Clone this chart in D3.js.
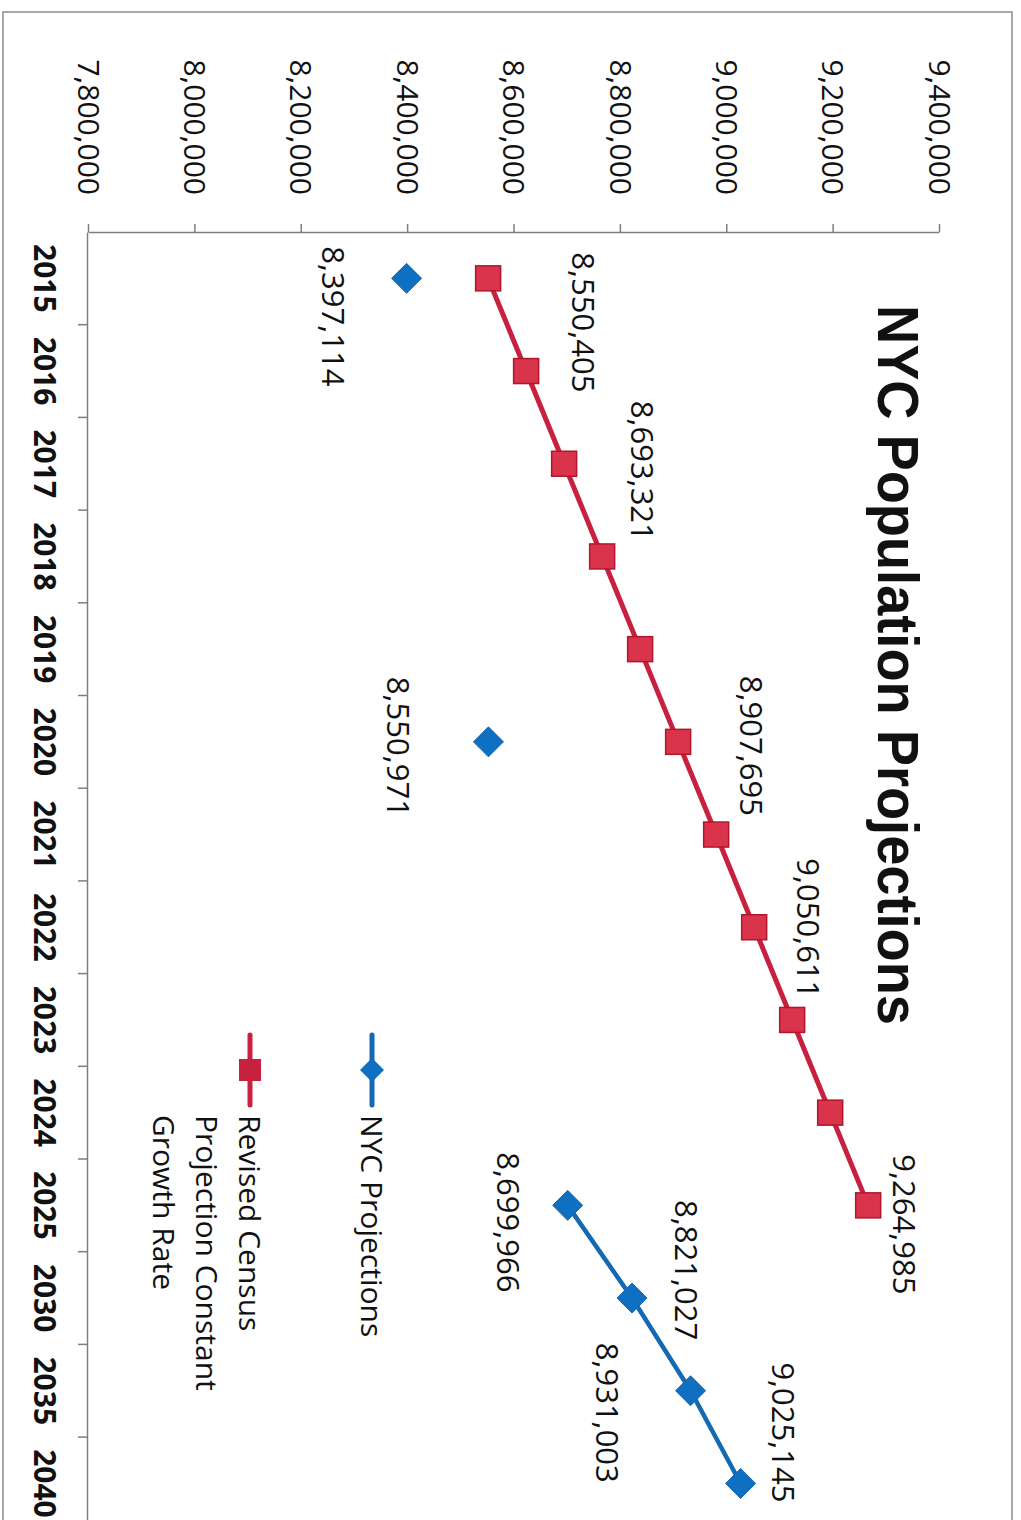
<!DOCTYPE html>
<html>
<head>
<meta charset="utf-8">
<script src="https://cdn.jsdelivr.net/npm/d3@7"></script>
<style>
  html, body { margin: 0; padding: 0; background: #ffffff; }
  svg { display: block; }
</style>
</head>
<body>
<svg id="chart" width="1021" height="1520"></svg>
<script>
// ---------- DATA ----------
const categories = ["2015","2016","2017","2018","2019","2020","2021","2022","2023","2024","2025","2030","2035","2040"];
const revisedCensus = [8550405, 8621863, 8693321, 8764779, 8836237, 8907695, 8979153, 9050611, 9122069, 9193527, 9264985, null, null, null];
const nycProjections = [8397114, null, null, null, null, 8550971, null, null, null, null, 8699966, 8821027, 8931003, 9025145];
const revisedLabelled = ["2015", "2017", "2020", "2022", "2025"];
const nycLabelled = ["2015", "2020", "2025", "2030", "2035", "2040"];
const valueTicks = [7800000, 8000000, 8200000, 8400000, 8600000, 8800000, 9000000, 9200000, 9400000];
const seriesNames = ["NYC Projections", "Revised Census Projection Constant Growth Rate"];
const titleText = "NYC Population Projections";

// ---------- LAYOUT (chart drawn unrotated, then turned 90° clockwise) ----------
const W = 1021, H = 1520;
const red = "#c8203f", redFill = "#d9344c", redEdge = "#b0172f";
const blue = "#1469b3", blueFill = "#0f6fc0";
// label offsets in the unrotated frame [dx, dy]
const redLabelOffsets = { "2015": [44, -95], "2017": [7, -78], "2020": [4, -73], "2022": [1, -54], "2025": [19, -36] };
const nycLabelOffsets = { "2015": [38, 73], "2020": [5, 90], "2025": [17, 60], "2030": [-28, -54], "2035": [22, 83], "2040": [-51, -43] };

const svg = d3.select("#chart");
svg.append("rect").attr("width", W).attr("height", H).attr("fill", "#fff");
// outer frame
svg.append("rect").attr("x", 3).attr("y", 12).attr("width", 1009).attr("height", 1530)
  .attr("fill", "none").attr("stroke", "#8c8c8c").attr("stroke-width", 1.5);

const g = svg.append("g").attr("transform", `translate(${W},0) rotate(90)`);
// unrotated frame: width = H (1520), height = W (1021)

const x = d3.scaleBand().domain(categories).range([232, 232 + 14 * 92.7]).padding(0);
const y = d3.scaleLinear().domain([7800000, 9400000]).range([932, 81]);
const cx = c => x(c) + x.bandwidth() / 2;

// value axis
const yAxis = g.append("g").attr("transform", "translate(232,0)")
  .call(d3.axisLeft(y).tickValues(valueTicks).tickSize(8).tickSizeOuter(0).tickPadding(29).tickFormat(d3.format(",")));
yAxis.select(".domain").attr("stroke", "#7f7f7f").attr("stroke-width", 1.5);
yAxis.selectAll(".tick line").attr("stroke", "#7f7f7f").attr("stroke-width", 1.5);
yAxis.selectAll("text").attr("font-family", "'Open Sans', sans-serif").attr("font-size", 30).attr("fill", "#111").attr("dy", "0.36em");

// category axis
const xAxis = g.append("g").attr("transform", "translate(0,933)")
  .call(d3.axisBottom(x).tickSize(0).tickSizeOuter(0).tickPadding(31));
xAxis.select(".domain").attr("stroke", "#7f7f7f").attr("stroke-width", 1.5);
xAxis.selectAll("text").attr("font-family", "'Open Sans', sans-serif").attr("font-size", 30)
  .attr("font-weight", 700).attr("fill", "#111").attr("dy", "0.36em").attr("y", 43);
// boundary ticks
xAxis.selectAll(".bt").data(categories).enter().append("line").attr("class", "bt")
  .attr("x1", c => x(c) + x.step()).attr("x2", c => x(c) + x.step())
  .attr("y1", 0).attr("y2", 10).attr("stroke", "#7f7f7f").attr("stroke-width", 1.5);

// title
g.append("text").attr("x", 665).attr("y", 143).attr("text-anchor", "middle")
  .attr("font-family", "'Liberation Sans Narrow', 'Liberation Sans', Arial, sans-serif")
  .attr("font-weight", 700).attr("font-size", 57).attr("fill", "#111")
  .attr("textLength", 720).attr("lengthAdjust", "spacingAndGlyphs").text(titleText);

// lines
const redData = categories.map((c, i) => ({ c, v: revisedCensus[i] }));
const blueData = categories.map((c, i) => ({ c, v: nycProjections[i] }));
const line = d3.line().defined(d => d.v != null).x(d => cx(d.c)).y(d => y(d.v));

g.append("path").datum(redData).attr("d", line).attr("fill", "none")
  .attr("stroke", red).attr("stroke-width", 5);
g.append("path").datum(blueData).attr("d", line).attr("fill", "none")
  .attr("stroke", blue).attr("stroke-width", 4.5);

// markers
const sq = 25;
g.selectAll(".rsq").data(redData.filter(d => d.v != null)).enter().append("rect")
  .attr("x", d => cx(d.c) - sq / 2).attr("y", d => y(d.v) - sq / 2)
  .attr("width", sq).attr("height", sq).attr("fill", redFill).attr("stroke", redEdge).attr("stroke-width", 1.5);
const dm = 15;
g.selectAll(".bdm").data(blueData.filter(d => d.v != null)).enter().append("path")
  .attr("d", d => { const px = cx(d.c), py = y(d.v); return `M${px},${py - dm}L${px + dm},${py}L${px},${py + dm}L${px - dm},${py}Z`; })
  .attr("fill", blueFill).attr("stroke", blue).attr("stroke-width", 1);

// data labels
const fmt = d3.format(",");
const labelFont = "'Open Sans', sans-serif";
g.selectAll(".rl").data(redData.filter(d => revisedLabelled.includes(d.c))).enter().append("text")
  .attr("x", d => cx(d.c) + redLabelOffsets[d.c][0]).attr("y", d => y(d.v) + redLabelOffsets[d.c][1])
  .attr("text-anchor", "middle").attr("dy", "0.36em")
  .attr("font-family", labelFont).attr("font-size", 31).attr("fill", "#111").text(d => fmt(d.v));
g.selectAll(".bl").data(blueData.filter(d => nycLabelled.includes(d.c))).enter().append("text")
  .attr("x", d => cx(d.c) + nycLabelOffsets[d.c][0]).attr("y", d => y(d.v) + nycLabelOffsets[d.c][1])
  .attr("text-anchor", "middle").attr("dy", "0.36em")
  .attr("font-family", labelFont).attr("font-size", 31).attr("fill", "#111").text(d => fmt(d.v));

// legend
const lg = g.append("g");
// NYC Projections
lg.append("line").attr("x1", 1035).attr("x2", 1105).attr("y1", 649).attr("y2", 649)
  .attr("stroke", blue).attr("stroke-width", 5).attr("stroke-linecap", "round");
lg.append("path").attr("d", `M1070,${649 - 12}L1082,649L1070,${649 + 12}L1058,649Z`).attr("fill", blueFill);
lg.append("text").attr("x", 1115).attr("y", 649).attr("dy", "0.36em")
  .attr("font-family", labelFont).attr("font-size", 30).attr("fill", "#111").text(seriesNames[0]);
// Revised Census
lg.append("line").attr("x1", 1035).attr("x2", 1105).attr("y1", 771).attr("y2", 771)
  .attr("stroke", red).attr("stroke-width", 5).attr("stroke-linecap", "round");
lg.append("rect").attr("x", 1059).attr("y", 771 - 11).attr("width", 22).attr("height", 22).attr("fill", red);
const legLines = ["Revised Census", "Projection Constant", "Growth Rate"];
lg.append("text").attr("font-family", labelFont).attr("font-size", 30).attr("fill", "#111")
  .selectAll("tspan").data(legLines).enter().append("tspan")
  .attr("x", 1115).attr("y", (d, i) => 771 + i * 43).attr("dy", "0.36em").text(d => d);
</script>
</body>
</html>
